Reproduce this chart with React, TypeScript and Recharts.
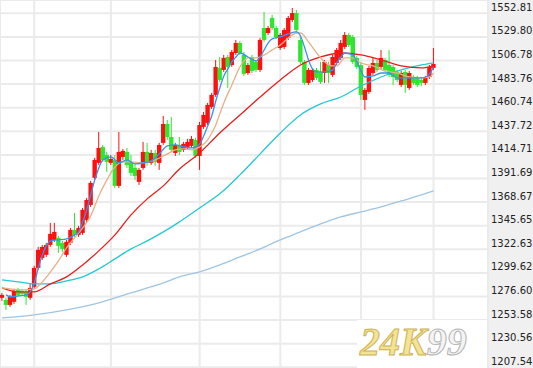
import { ComposedChart, Bar, Line, XAxis, YAxis, CartesianGrid } from "recharts";

// open, close, high, low
const candles: [number, number, number, number][] = [
  [1275.3, 1278.2, 1280.1, 1272.3],
  [1273.3, 1268.4, 1275.3, 1263.6],
  [1268.4, 1276.3, 1278.2, 1266.5],
  [1271.4, 1282.1, 1284.1, 1269.4],
  [1283.1, 1278.2, 1285.0, 1276.3],
  [1282.1, 1279.2, 1284.1, 1277.2],
  [1281.1, 1276.3, 1283.1, 1268.4],
  [1275.3, 1285.0, 1288.9, 1273.3],
  [1286.0, 1304.5, 1306.5, 1284.1],
  [1304.5, 1322.1, 1325.0, 1302.6],
  [1314.3, 1325.0, 1326.9, 1312.3],
  [1317.2, 1326.9, 1328.9, 1315.2],
  [1326.9, 1337.7, 1348.4, 1325.0],
  [1331.8, 1339.6, 1348.4, 1329.9],
  [1333.8, 1326.0, 1335.7, 1319.1],
  [1328.9, 1323.0, 1330.8, 1320.1],
  [1317.2, 1329.9, 1331.8, 1315.2],
  [1328.9, 1341.6, 1343.5, 1326.9],
  [1341.6, 1336.7, 1358.1, 1334.7],
  [1336.7, 1343.5, 1345.5, 1334.7],
  [1338.6, 1361.1, 1363.0, 1336.7],
  [1351.3, 1370.8, 1372.8, 1349.4],
  [1365.9, 1387.4, 1389.3, 1364.0],
  [1392.3, 1409.8, 1411.8, 1390.3],
  [1406.9, 1421.5, 1437.1, 1404.9],
  [1422.5, 1409.8, 1424.4, 1407.9],
  [1414.7, 1407.9, 1417.6, 1398.1],
  [1406.9, 1410.8, 1414.7, 1404.9],
  [1409.8, 1384.5, 1414.7, 1382.5],
  [1384.5, 1417.6, 1437.1, 1382.5],
  [1412.7, 1418.6, 1420.5, 1409.8],
  [1417.6, 1404.9, 1421.5, 1402.0],
  [1407.9, 1397.1, 1414.7, 1394.2],
  [1402.0, 1394.2, 1406.9, 1390.3],
  [1388.4, 1400.1, 1402.0, 1385.4],
  [1402.0, 1417.6, 1427.4, 1400.1],
  [1417.6, 1406.9, 1426.4, 1404.0],
  [1406.9, 1416.6, 1419.6, 1404.9],
  [1416.6, 1407.9, 1419.6, 1404.0],
  [1406.9, 1424.4, 1426.4, 1400.1],
  [1426.4, 1444.9, 1452.7, 1424.4],
  [1444.9, 1432.2, 1448.8, 1429.3],
  [1432.2, 1419.6, 1451.7, 1417.6],
  [1416.6, 1424.4, 1426.4, 1413.7],
  [1424.4, 1417.6, 1432.2, 1414.7],
  [1419.6, 1425.4, 1427.4, 1417.6],
  [1422.5, 1427.4, 1430.3, 1419.6],
  [1423.5, 1430.3, 1433.2, 1421.5],
  [1429.3, 1413.7, 1431.3, 1411.8],
  [1413.7, 1443.9, 1446.9, 1400.1],
  [1442.0, 1453.7, 1456.6, 1440.0],
  [1445.9, 1463.4, 1465.4, 1443.9],
  [1461.5, 1473.2, 1475.1, 1459.5],
  [1473.2, 1500.5, 1507.3, 1471.2],
  [1499.5, 1487.8, 1510.2, 1485.9],
  [1497.6, 1509.3, 1512.2, 1495.6],
  [1510.2, 1500.5, 1512.2, 1480.0],
  [1502.4, 1515.1, 1517.1, 1500.5],
  [1514.1, 1523.9, 1526.8, 1512.2],
  [1523.9, 1514.1, 1525.8, 1512.2],
  [1512.2, 1493.7, 1515.1, 1491.7],
  [1494.6, 1502.4, 1504.4, 1492.7],
  [1510.2, 1496.6, 1512.2, 1494.6],
  [1505.4, 1497.6, 1507.3, 1495.6],
  [1497.6, 1526.8, 1528.8, 1495.6],
  [1538.5, 1526.8, 1554.1, 1524.9],
  [1533.6, 1538.5, 1540.5, 1531.7],
  [1548.3, 1538.5, 1551.2, 1536.6],
  [1538.5, 1529.7, 1540.5, 1527.8],
  [1519.0, 1531.7, 1533.6, 1517.1],
  [1520.0, 1536.6, 1538.5, 1518.0],
  [1528.8, 1548.3, 1550.2, 1526.8],
  [1546.3, 1553.1, 1558.0, 1544.4],
  [1553.1, 1536.6, 1556.1, 1534.6],
  [1526.8, 1505.4, 1531.7, 1503.4],
  [1505.4, 1484.9, 1507.3, 1482.9],
  [1484.9, 1497.6, 1499.5, 1482.9],
  [1487.8, 1497.6, 1499.5, 1485.9],
  [1497.6, 1489.8, 1499.5, 1487.8],
  [1495.6, 1485.9, 1505.4, 1483.9],
  [1494.6, 1505.4, 1507.3, 1484.9],
  [1502.4, 1494.6, 1505.4, 1484.9],
  [1492.7, 1510.2, 1512.2, 1490.7],
  [1504.4, 1517.1, 1519.0, 1502.4],
  [1509.3, 1523.9, 1526.8, 1507.3],
  [1520.0, 1531.7, 1534.6, 1518.0],
  [1531.7, 1521.9, 1533.6, 1520.0],
  [1529.7, 1505.4, 1531.7, 1503.4],
  [1509.3, 1500.5, 1511.2, 1498.5],
  [1502.4, 1473.2, 1504.4, 1468.3],
  [1468.3, 1478.1, 1480.0, 1458.6],
  [1476.1, 1499.5, 1501.5, 1474.2],
  [1494.6, 1504.4, 1509.3, 1492.7],
  [1504.4, 1497.6, 1507.3, 1495.6],
  [1500.5, 1509.3, 1517.1, 1498.5],
  [1507.3, 1497.6, 1509.3, 1495.6],
  [1502.4, 1492.7, 1517.1, 1490.7],
  [1500.5, 1490.7, 1502.4, 1482.9],
  [1495.6, 1487.8, 1497.6, 1485.9],
  [1482.9, 1494.6, 1496.6, 1481.0],
  [1495.6, 1482.9, 1497.6, 1475.1],
  [1480.0, 1494.6, 1496.6, 1478.1],
  [1490.7, 1484.9, 1492.7, 1482.9],
  [1489.8, 1482.9, 1491.7, 1481.0],
  [1487.8, 1484.9, 1489.8, 1482.0],
  [1484.9, 1489.8, 1491.7, 1482.9],
  [1490.7, 1500.5, 1502.4, 1488.8],
  [1499.5, 1503.4, 1519.0, 1497.6],
];

// moving averages, [candle index, value]
const ma5Points: [number, number][] = [
  [1, 1278.2], [2, 1276.3], [4, 1277.2], [6, 1278.2], [7, 1281.1], [8, 1289.9], [9, 1304.5],
  [10, 1317.2], [11, 1326.0], [12, 1330.8], [14, 1331.8], [16, 1332.8], [18, 1336.7], [19, 1339.6],
  [20, 1349.4], [21, 1361.1], [22, 1375.7], [23, 1390.3], [24, 1402.0], [25, 1409.8], [27, 1412.7],
  [29, 1406.9], [31, 1409.8], [33, 1405.9], [35, 1406.9], [37, 1408.8], [39, 1415.7], [41, 1423.5],
  [43, 1424.4], [45, 1422.5], [47, 1421.5], [49, 1425.4], [50, 1433.2], [51, 1442.9], [52, 1452.7],
  [53, 1467.3], [54, 1480.0], [55, 1491.7], [56, 1498.5], [57, 1505.4], [58, 1510.2], [59, 1514.1],
  [61, 1510.2], [63, 1506.3], [64, 1510.2], [65, 1517.1], [66, 1523.9], [67, 1527.8], [69, 1529.7],
  [71, 1532.7], [73, 1534.6], [74, 1530.7], [75, 1520.0], [76, 1507.3], [77, 1498.5], [78, 1495.6],
  [80, 1495.6], [82, 1497.6], [83, 1504.4], [84, 1510.2], [85, 1514.1], [87, 1512.2], [88, 1505.4],
  [89, 1496.6], [90, 1490.7], [92, 1491.7], [94, 1494.6], [96, 1494.6], [98, 1489.8], [100, 1489.8],
  [102, 1489.8], [104, 1489.8], [105, 1490.7], [106, 1493.7], [107, 1500.5],
];

const ma10Points: [number, number][] = [
  [0, 1285.0], [5, 1283.1], [8, 1284.1], [10, 1290.9], [12, 1300.6], [14, 1311.3], [16, 1324.0],
  [18, 1333.8], [20, 1343.5], [22, 1355.2], [24, 1374.7], [26, 1390.3], [28, 1403.0], [30, 1407.9],
  [32, 1407.9], [35, 1406.9], [38, 1409.8], [41, 1415.7], [43, 1419.6], [45, 1420.5], [47, 1419.6],
  [49, 1422.5], [51, 1429.3], [52, 1436.1], [53, 1443.9], [54, 1454.7], [55, 1465.4], [57, 1482.9],
  [59, 1500.5], [61, 1509.3], [63, 1509.3], [65, 1512.2], [67, 1517.1], [69, 1521.9], [71, 1528.8],
  [73, 1533.6], [74, 1533.6], [76, 1524.9], [78, 1514.1], [80, 1505.4], [82, 1501.5], [83, 1501.5],
  [85, 1509.3], [87, 1509.3], [89, 1504.4], [92, 1501.5], [95, 1496.6], [98, 1494.6], [101, 1490.7],
  [104, 1489.8], [106, 1490.7], [107, 1494.6],
];

const ma20Points: [number, number][] = [
  [0, 1285.0], [4, 1281.1], [8, 1281.1], [12, 1288.9], [16, 1295.7], [20, 1307.4], [24, 1321.1],
  [28, 1336.7], [32, 1356.2], [36, 1371.8], [40, 1384.5], [44, 1401.0], [49, 1416.6], [54, 1436.1],
  [59, 1453.7], [64, 1471.2], [69, 1487.8], [74, 1502.4], [79, 1510.2], [84, 1514.1], [89, 1512.2],
  [94, 1507.3], [99, 1501.5], [104, 1499.5], [107, 1501.5],
];

const ma60Points: [number, number][] = [
  [0, 1292.8], [4, 1290.9], [8, 1288.9], [12, 1288.9], [16, 1291.8], [20, 1295.7], [24, 1303.5],
  [28, 1313.3], [32, 1323.0], [36, 1330.8], [40, 1339.6], [44, 1349.4], [49, 1363.0], [54, 1376.7],
  [59, 1395.2], [64, 1415.7], [69, 1436.1], [74, 1453.7], [79, 1464.4], [84, 1471.2], [89, 1481.9],
  [94, 1490.7], [99, 1497.6], [104, 1502.4], [107, 1504.4],
];

const ma120Points: [number, number][] = [
  [0, 1255.8], [8, 1258.7], [16, 1263.6], [24, 1270.4], [32, 1280.1], [40, 1289.9], [44, 1295.7],
  [49, 1300.6], [54, 1307.4], [59, 1315.2], [64, 1323.0], [69, 1331.8], [74, 1339.6], [79, 1347.4],
  [84, 1354.2], [89, 1359.1], [94, 1364.0], [99, 1369.8], [104, 1375.7], [107, 1379.6],
];

const priceTicks = [
  1552.81, 1529.8, 1506.78, 1483.76, 1460.74, 1437.72, 1414.71, 1391.69,
  1368.67, 1345.65, 1322.63, 1299.62, 1276.6, 1253.58, 1230.56, 1207.54,
];

// candles where a new month starts (vertical grid)
const monthStarts = [8, 27, 49, 69, 89, 107];

const SLOTS = 121;

const lookup = (pts: [number, number][]) => new Map(pts.map(([i, v]) => [i, v]));
const m5 = lookup(ma5Points);
const m10 = lookup(ma10Points);
const m20 = lookup(ma20Points);
const m60 = lookup(ma60Points);
const m120 = lookup(ma120Points);

const rows = Array.from({ length: SLOTS }, (_, i) => {
  const c = candles[i];
  return {
    idx: i,
    open: c ? c[0] : null,
    close: c ? c[1] : null,
    range: c ? [c[3], c[2]] : null,
    ma5: m5.get(i) ?? null,
    ma10: m10.get(i) ?? null,
    ma20: m20.get(i) ?? null,
    ma60: m60.get(i) ?? null,
    ma120: m120.get(i) ?? null,
  };
});

const Candle = (props: any) => {
  const { x, y, width, height, payload } = props;
  if (!payload || payload.range == null) return null;
  const [low, high] = payload.range;
  const top = Math.min(y, y + height);
  const h = Math.abs(height);
  const toY = (v: number) => (high === low ? top : top + ((high - v) / (high - low)) * h);
  const up = payload.close >= payload.open;
  const color = up ? "#ff1010" : "#2ee62e";
  const cx = x + width / 2;
  const y1 = toY(Math.max(payload.open, payload.close));
  const y2 = toY(Math.min(payload.open, payload.close));
  return (
    <g>
      <line x1={cx} x2={cx} y1={top} y2={top + h} stroke={color} strokeWidth={1} />
      <rect x={cx - 2.2} y={y1} width={4.4} height={Math.max(1, y2 - y1)} fill={color} />
    </g>
  );
};

const PriceTick = ({ x, y, payload }: any) => (
  <text
    x={x}
    y={y - 6}
    fill="#222"
    fontSize={10}
    fontFamily="DejaVu Sans"
    textAnchor="start"
    dominantBaseline="central"
  >
    {Number(payload.value).toFixed(2)}
  </text>
);

const lineProps = {
  type: "monotone" as const,
  strokeWidth: 1.3,
  dot: false,
  activeDot: false,
  connectNulls: true,
  isAnimationActive: false,
};

export default function App() {
  return (
    <div style={{ position: "absolute", left: 0, top: 0, width: 533, height: 368, background: "#fff" }}>
      <div style={{ position: "absolute", left: 488, top: 0, width: 45, height: 368, background: "#f0f0f0" }} />
      <div style={{ position: "absolute", left: 0, top: 0 }}>
        <ComposedChart width={533} height={368} data={rows} margin={{ top: 0, right: 0, bottom: 0, left: 0 }}>
          <CartesianGrid stroke="#ebebeb" strokeWidth={2} />
          <XAxis dataKey="idx" hide ticks={monthStarts} interval={0} />
          <YAxis
            orientation="right"
            width={45}
            domain={[1206.86, 1565.78]}
            ticks={priceTicks}
            interval={0}
            allowDataOverflow
            axisLine={false}
            tickLine={false}
            tickSize={0}
            tickMargin={3}
            tick={<PriceTick />}
          />
          <Bar dataKey="range" shape={<Candle />} isAnimationActive={false} />
          <Line {...lineProps} dataKey="ma120" stroke="#9ec6e4" />
          <Line {...lineProps} dataKey="ma60" stroke="#22c8d6" />
          <Line {...lineProps} dataKey="ma20" stroke="#e81c1c" />
          <Line {...lineProps} dataKey="ma10" stroke="#e8b088" />
          <Line {...lineProps} dataKey="ma5" stroke="#3a90f0" />
        </ComposedChart>
      </div>
      <div style={{ position: "absolute", left: 357, top: 320, width: 130, height: 48, background: "#fff" }} />
      <div
        style={{
          position: "absolute",
          left: 360,
          top: 322,
          fontFamily: "Liberation Serif",
          fontWeight: "bold",
          fontStyle: "italic",
          fontSize: 40,
          lineHeight: "40px",
          whiteSpace: "nowrap",
        }}
      >
        <span style={{ color: "#f3e394", WebkitTextStroke: "1px #cdb354" }}>24K</span>
        <span style={{ color: "#f4f4f4", WebkitTextStroke: "1px #b5b5b5" }}>99</span>
      </div>
    </div>
  );
}
